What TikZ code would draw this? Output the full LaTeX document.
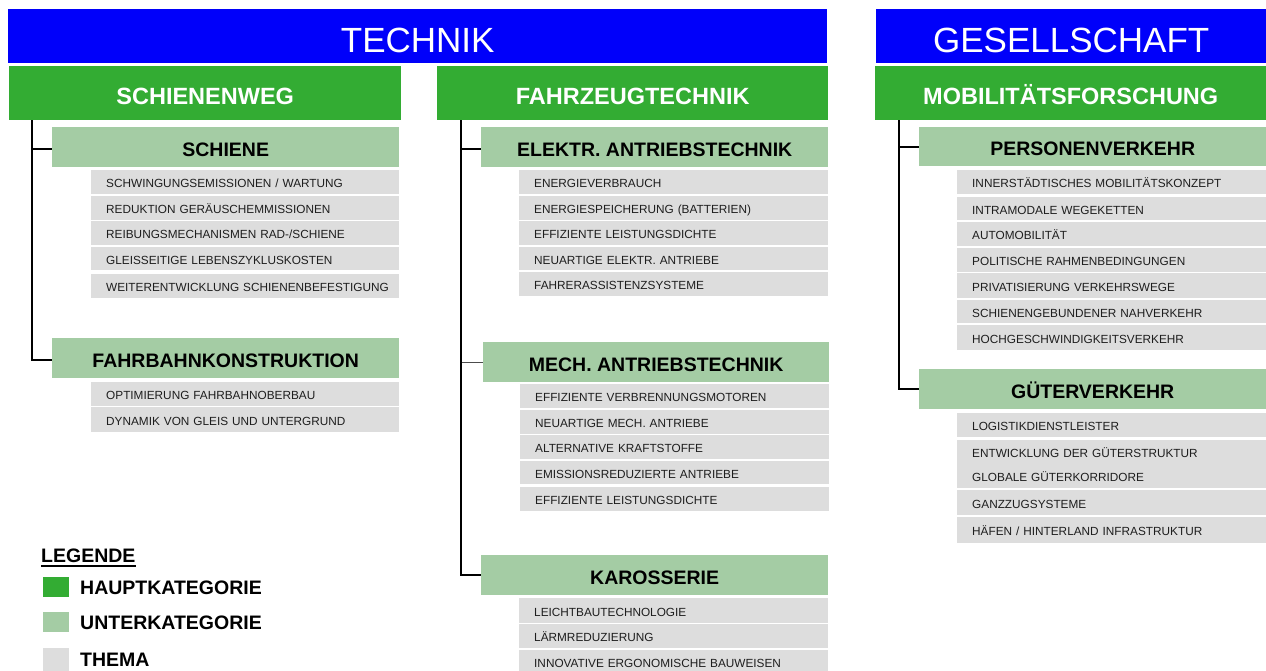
\documentclass[tikz,border=0pt]{standalone}
\usepackage{fontspec}
\setmainfont{Liberation Sans}
\definecolor{techblue}{RGB}{0,0,250}
\definecolor{maingreen}{RGB}{51,172,51}
\definecolor{subgreen}{RGB}{164,204,164}
\definecolor{topicgray}{RGB}{221,221,221}
\definecolor{topictext}{RGB}{30,30,30}
\tikzset{
  box/.style={rectangle, inner sep=0pt, anchor=north west, draw=none},
  header/.style={box, fill=techblue, text=white, font=\fontsize{35}{35}\selectfont, text height=33pt, text depth=0pt},
  mainbox/.style={box, fill=maingreen, text=white, font=\bfseries\fontsize{23.5}{23.5}\selectfont, text height=22pt, text depth=0pt},
  subbox/.style={box, fill=subgreen, text=black, font=\bfseries\fontsize{19.5}{19.5}\selectfont, text height=18.5pt, text depth=0pt},
  topicbox/.style={box, fill=topicgray, text=topictext, font=\fontsize{11.8}{11.8}\selectfont, align=left, inner xsep=15pt, text height=11.5pt, text depth=0pt},
  conn/.style={draw=black, line width=2pt},
  thinconn/.style={draw=black!70, line width=1.2pt},
  legtext/.style={anchor=base west, inner sep=0pt, font=\bfseries\fontsize{19.5}{19.5}\selectfont},
}
\newcommand{\bx}[7]{\node[#1, minimum width={#5-#3}, minimum height={#6-#4}] (#2) at (#3,#4) {#7};}
\newcommand{\tp}[6]{\pgfmathsetmacro{\tpw}{#4-#2-30}\node[topicbox, text width=\tpw pt, minimum height={#5-#3}] (#1) at (#2,#3) {\mbox{#6}};}
\begin{document}
\begin{tikzpicture}[x=1pt,y=-1pt]
\useasboundingbox (0,0) rectangle (1266,670);
\clip (0,0) rectangle (1266,670);
\fill[white] (0,0) rectangle (1266,670);
% headers
\bx{header}{technik}{8}{9}{827}{63}{TECHNIK}
\bx{header}{gesellschaft}{876}{9}{1266}{63}{GESELLSCHAFT}
% main categories
\bx{mainbox}{schienenweg}{9}{66}{401}{120}{SCHIENENWEG}
\bx{mainbox}{fahrzeug}{437}{66}{828}{120}{FAHRZEUGTECHNIK}
\bx{mainbox}{mobil}{875}{66}{1266}{120}{MOBILITÄTSFORSCHUNG}
% Schienenweg
\bx{subbox}{schiene}{52}{127}{399}{167}{SCHIENE}
\tp{s1}{91}{170}{399}{194}{SCHWINGUNGSEMISSIONEN / WARTUNG}
\tp{s2}{91}{196}{399}{220}{REDUKTION GERÄUSCHEMMISSIONEN}
\tp{s3}{91}{221}{399}{245}{REIBUNGSMECHANISMEN RAD-/SCHIENE}
\tp{s4}{91}{247}{399}{270}{GLEISSEITIGE LEBENSZYKLUSKOSTEN}
\tp{s5}{91}{274}{399}{298}{WEITERENTWICKLUNG SCHIENENBEFESTIGUNG}
\bx{subbox}{fahrbahn}{52}{338}{399}{378}{FAHRBAHNKONSTRUKTION}
\tp{f1}{91}{382}{399}{406}{OPTIMIERUNG FAHRBAHNOBERBAU}
\tp{f2}{91}{407}{399}{432}{DYNAMIK VON GLEIS UND UNTERGRUND}
% Fahrzeugtechnik
\bx{subbox}{elektr}{481}{127}{828}{167}{ELEKTR. ANTRIEBSTECHNIK}
\tp{e1}{519}{170}{828}{194}{ENERGIEVERBRAUCH}
\tp{e2}{519}{196}{828}{220}{ENERGIESPEICHERUNG (BATTERIEN)}
\tp{e3}{519}{221}{828}{245}{EFFIZIENTE LEISTUNGSDICHTE}
\tp{e4}{519}{247}{828}{270}{NEUARTIGE ELEKTR. ANTRIEBE}
\tp{e5}{519}{272}{828}{296}{FAHRERASSISTENZSYSTEME}
\bx{subbox}{mech}{483}{342}{829}{382}{MECH. ANTRIEBSTECHNIK}
\tp{m1}{520}{384}{829}{408}{EFFIZIENTE VERBRENNUNGSMOTOREN}
\tp{m2}{520}{410}{829}{434}{NEUARTIGE MECH. ANTRIEBE}
\tp{m3}{520}{435}{829}{459}{ALTERNATIVE KRAFTSTOFFE}
\tp{m4}{520}{461}{829}{484}{EMISSIONSREDUZIERTE ANTRIEBE}
\tp{m5}{520}{487}{829}{511}{EFFIZIENTE LEISTUNGSDICHTE}
\bx{subbox}{karosserie}{481}{555}{828}{595}{KAROSSERIE}
\tp{k1}{519}{598}{828}{623}{LEICHTBAUTECHNOLOGIE}
\tp{k2}{519}{624}{828}{648}{LÄRMREDUZIERUNG}
\tp{k3}{519}{650}{828}{674}{INNOVATIVE ERGONOMISCHE BAUWEISEN}
% Mobilitaetsforschung
\bx{subbox}{personen}{919}{127}{1266}{166}{PERSONENVERKEHR}
\tp{p1}{957}{170}{1266}{194}{INNERSTÄDTISCHES MOBILITÄTSKONZEPT}
\tp{p2}{957}{197}{1266}{220}{INTRAMODALE WEGEKETTEN}
\tp{p3}{957}{222}{1266}{246}{AUTOMOBILITÄT}
\tp{p4}{957}{248}{1266}{272}{POLITISCHE RAHMENBEDINGUNGEN}
\tp{p5}{957}{273}{1266}{298}{PRIVATISIERUNG VERKEHRSWEGE}
\tp{p6}{957}{300}{1266}{323}{SCHIENENGEBUNDENER NAHVERKEHR}
\tp{p7}{957}{325}{1266}{350}{HOCHGESCHWINDIGKEITSVERKEHR}
\bx{subbox}{gueter}{919}{369}{1266}{409}{GÜTERVERKEHR}
\tp{g1}{957}{413}{1266}{437}{LOGISTIKDIENSTLEISTER}
\tp{g2}{957}{440}{1266}{463}{ENTWICKLUNG DER GÜTERSTRUKTUR}
\tp{g3}{957}{463}{1266}{488}{GLOBALE GÜTERKORRIDORE}
\tp{g4}{957}{490}{1266}{515}{GANZZUGSYSTEME}
\tp{g5}{957}{517}{1266}{543}{HÄFEN / HINTERLAND INFRASTRUKTUR}
% connectors
\draw[conn] ([xshift=23pt]schienenweg.south west) |- ([yshift=-2pt]schiene.west);
\draw[conn] ([xshift=23pt]schienenweg.south west) |- ([yshift=-2pt]fahrbahn.west);
\draw[conn] ([xshift=24pt]fahrzeug.south west) |- ([yshift=-2pt]elektr.west);
\draw[thinconn] ([xshift=24pt]fahrzeug.south west) |- (mech.west);
\draw[conn] ([xshift=24pt]fahrzeug.south west) |- (karosserie.west);
\draw[conn] ([xshift=24pt]mobil.south west) |- (personen.west);
\draw[conn] ([xshift=24pt]mobil.south west) |- (gueter.west);
% legend
\node[legtext] (leg) at (41,562) {LEGENDE};
\draw[line width=2pt] ([yshift=-3.5pt]leg.base west) -- ([yshift=-3.5pt]leg.base east);
\node[box, fill=maingreen, minimum width=26, minimum height=20] (lg1) at (43,577) {};
\node[box, fill=subgreen, minimum width=26, minimum height=20] (lg2) at (43,612) {};
\node[box, fill=topicgray, minimum width=26, minimum height=24] (lg3) at (43,648) {};
\node[legtext] (lt1) at (80,594) {HAUPTKATEGORIE};
\node[legtext] (lt2) at (80,629) {UNTERKATEGORIE};
\node[legtext] (lt3) at (80,666) {THEMA};
\end{tikzpicture}
\end{document}
